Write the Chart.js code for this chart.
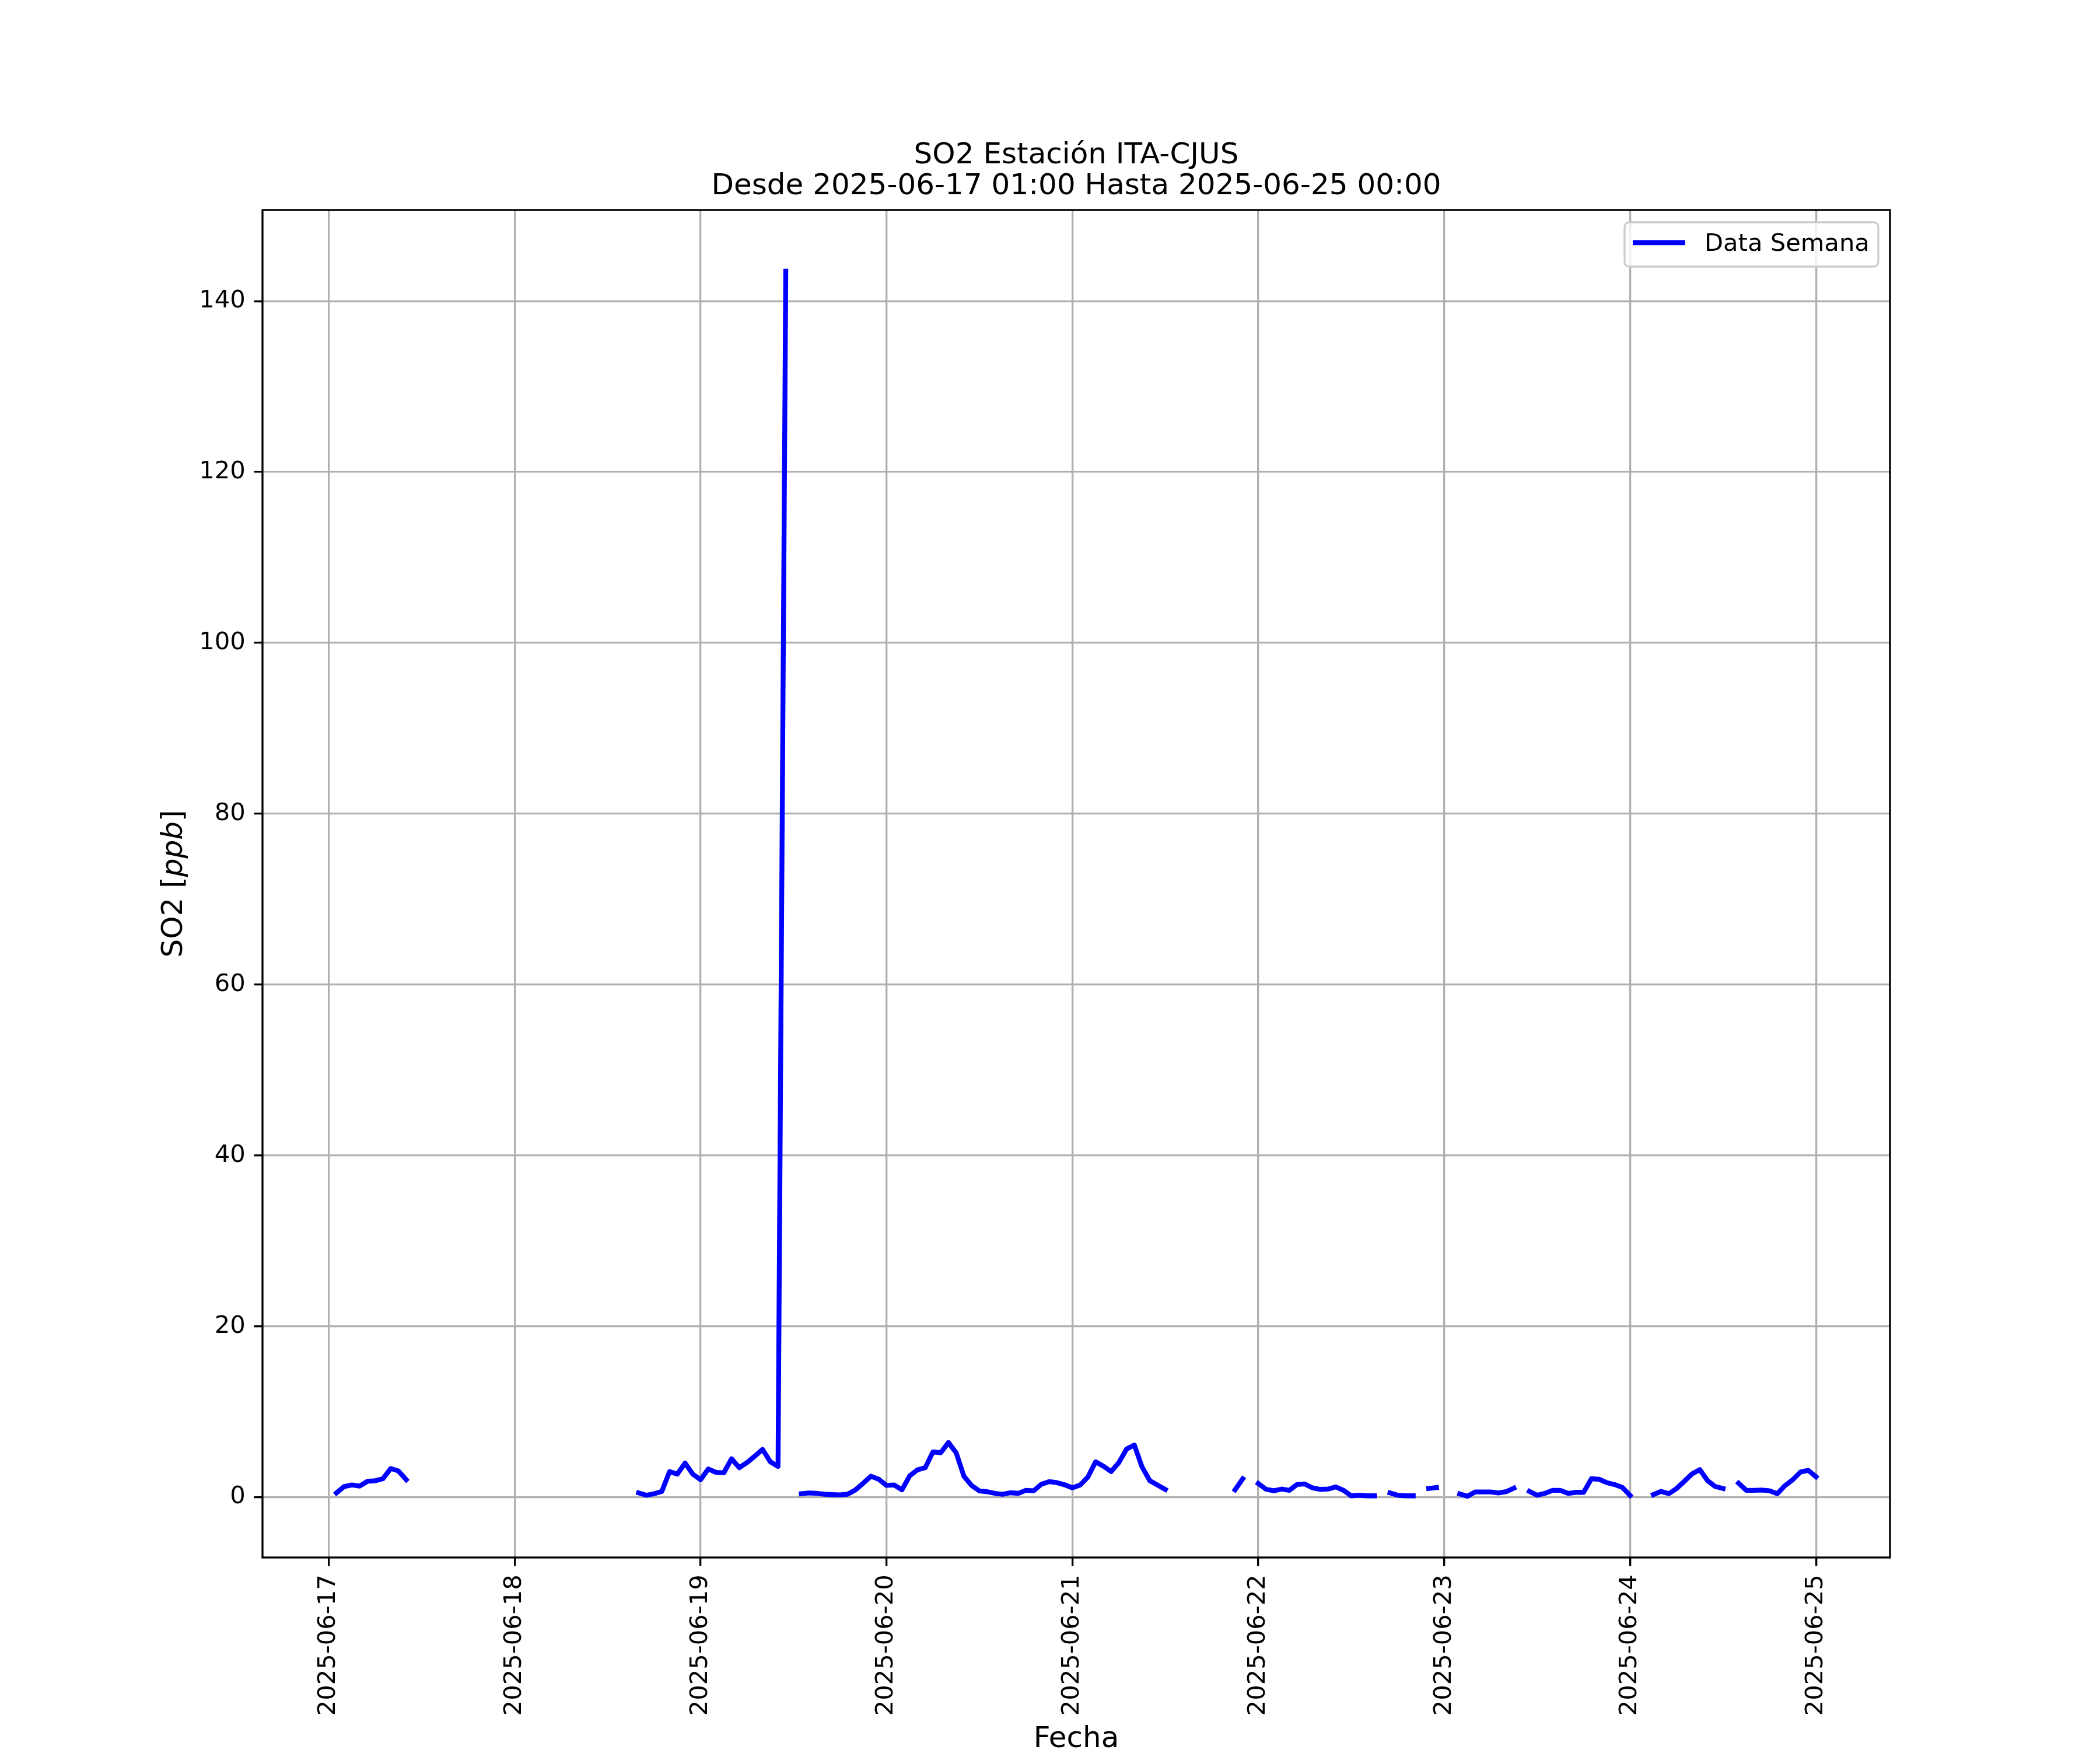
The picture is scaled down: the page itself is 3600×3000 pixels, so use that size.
<!DOCTYPE html>
<html>
<head>
<meta charset="utf-8">
<title>SO2 Estación ITA-CJUS</title>
<script src="https://cdn.jsdelivr.net/npm/chart.js@4.4.1/dist/chart.umd.min.js"></script>
<style>
  html, body { margin: 0; padding: 0; background: #fff; }
  canvas { display: block; }
</style>
</head>
<body>
<canvas id="so2Chart" width="3600" height="3000"></canvas>
<script>
// hourly SO2 (ppb), first value = 2025-06-17 01:00, last = 2025-06-25 00:00; null = no data
const so2 = [
  0.5, 1.25, 1.43, 1.3, 1.86, 1.93, 2.16, 3.36, 3.07, 2.05,
  null, null, null, null, null, null, null, null, null, null,
  null, null, null, null, null, null, null, null, null, null,
  null, null, null, null, null, null, null, null, null,
  0.5, 0.23, 0.4, 0.68, 3.0, 2.7, 4.0, 2.7, 2.05, 3.3,
  2.9, 2.85, 4.5, 3.45, 4.05, 4.8, 5.6, 4.15, 3.6, 143.5,
  null,
  0.4, 0.5, 0.45, 0.35, 0.3, 0.27, 0.35, 0.86, 1.64, 2.45,
  2.1, 1.38, 1.43, 0.86, 2.5, 3.2, 3.45, 5.3, 5.2, 6.4,
  5.2, 2.45, 1.36, 0.73, 0.64, 0.45, 0.34, 0.52, 0.45, 0.8,
  0.75, 1.52, 1.82, 1.7, 1.45, 1.1, 1.42, 2.35, 4.14, 3.64,
  3.0, 4.05, 5.64, 6.1, 3.52, 1.93, 1.41, 0.9,
  null, null, null, null, null, null, null, null,
  0.86, 2.16,
  null,
  1.6, 0.93, 0.75, 0.95, 0.8, 1.48, 1.55, 1.09, 0.91, 0.95,
  1.2, 0.8, 0.16, 0.23, 0.16, 0.16,
  null,
  0.5, 0.23, 0.16, 0.16,
  null,
  1.02, 1.12,
  null, null,
  0.39, 0.11, 0.61, 0.61, 0.61, 0.5, 0.64, 1.07,
  null,
  0.68, 0.23, 0.45, 0.8, 0.8, 0.45, 0.57, 0.57, 2.16, 2.1,
  1.7, 1.48, 1.14, 0.2,
  null, null,
  0.3, 0.68, 0.41, 1.02, 1.86, 2.73, 3.23, 1.93, 1.25, 1.02,
  null,
  1.64, 0.8, 0.8, 0.84, 0.75, 0.41, 1.36, 2.05, 2.95, 3.14,
  2.39
];

const dayLabels = [
  "2025-06-17", "2025-06-18", "2025-06-19", "2025-06-20", "2025-06-21",
  "2025-06-22", "2025-06-23", "2025-06-24", "2025-06-25"
];
const yTicks = [0, 20, 40, 60, 80, 100, 120, 140];

const titleLines = ["SO2 Estación ITA-CJUS", "Desde 2025-06-17 01:00 Hasta 2025-06-25 00:00"];
const seriesName = "Data Semana";

// x = hours since 2025-06-17 00:00
const points = so2.map((v, i) => ({ x: i + 1, y: v }));

const PT = 300 / 72;            // px per point
const FONT = "'DejaVu Sans', sans-serif";
const tickFont = { family: FONT, size: 10 * PT };

// matplotlib-like 5% margins
const xMin = 1 - 0.05 * 191, xMax = 192 + 0.05 * 191;
const yLo = 0.11, yHi = 143.5;
const yMin = yLo - 0.05 * (yHi - yLo), yMax = yHi + 0.05 * (yHi - yLo);

const decorations = {
  id: "decorations",
  afterDatasetsDraw(chart) {
    const { ctx, chartArea: a } = chart;
    ctx.save();
    // spines
    ctx.strokeStyle = "#000";
    ctx.lineWidth = 0.8 * PT;
    ctx.strokeRect(a.left, a.top, a.right - a.left, a.bottom - a.top);

    // legend
    const lx = 2785, ly = 381, lw = 435, lh = 76;
    ctx.beginPath();
    ctx.roundRect(lx, ly, lw, lh, 8);
    ctx.fillStyle = "rgba(255,255,255,0.8)";
    ctx.fill();
    ctx.strokeStyle = "#cccccc";
    ctx.lineWidth = 0.8 * PT;
    ctx.stroke();
    ctx.beginPath();
    ctx.moveTo(2799, 416);
    ctx.lineTo(2889, 416);
    ctx.strokeStyle = "#0000ff";
    ctx.lineWidth = 2 * PT;
    ctx.lineCap = "butt";
    ctx.stroke();
    ctx.fillStyle = "#000";
    ctx.font = `${10 * PT}px ${FONT}`;
    ctx.textAlign = "left";
    ctx.textBaseline = "alphabetic";
    ctx.fillText(seriesName, 2922, 430);

    // title
    const cx = (a.left + a.right) / 2;
    ctx.font = `${12 * PT}px ${FONT}`;
    ctx.textAlign = "center";
    ctx.fillText(titleLines[0], cx, 280);
    ctx.fillText(titleLines[1], cx, 333);

    // x label
    ctx.fillText("Fecha", cx, 2995);

    // y label: SO2 [ppb] with italic ppb
    const cy = (a.top + a.bottom) / 2;
    const parts = [
      ["SO2 [", `${12 * PT}px ${FONT}`],
      ["ppb", `italic ${12 * PT}px ${FONT}`],
      ["]", `${12 * PT}px ${FONT}`]
    ];
    let total = 0;
    parts.forEach(p => { ctx.font = p[1]; total += ctx.measureText(p[0]).width; });
    ctx.translate(312, cy);
    ctx.rotate(-Math.PI / 2);
    ctx.textAlign = "left";
    let px = -total / 2;
    parts.forEach(p => {
      ctx.font = p[1];
      ctx.fillText(p[0], px, 0);
      px += ctx.measureText(p[0]).width;
    });
    ctx.restore();
  }
};

new Chart(document.getElementById("so2Chart"), {
  type: "line",
  data: {
    datasets: [{
      label: seriesName,
      data: points,
      borderColor: "#0000ff",
      backgroundColor: "#0000ff",
      borderWidth: 2 * PT,
      pointRadius: 0,
      tension: 0,
      spanGaps: false,
      borderCapStyle: "square",
      borderJoinStyle: "round"
    }]
  },
  options: {
    responsive: false,
    animation: false,
    devicePixelRatio: 1,
    layout: { padding: { left: 0, top: 360, right: 360, bottom: 0 } },
    plugins: {
      legend: { display: false },
      title: { display: false },
      tooltip: { enabled: false }
    },
    scales: {
      x: {
        type: "linear",
        min: xMin,
        max: xMax,
        afterBuildTicks: (s) => { s.ticks = dayLabels.map((_, i) => ({ value: i * 24 })); },
        afterFit: (s) => { s.height = 330; },
        ticks: {
          autoSkip: false,
          minRotation: 90,
          maxRotation: 90,
          padding: 3.5 * PT,
          color: "#000",
          font: tickFont,
          callback: (v) => dayLabels[Math.round(v / 24)]
        },
        grid: {
          color: "#b0b0b0",
          lineWidth: 0.8 * PT,
          tickLength: 3.5 * PT,
          tickColor: "#000",
          tickWidth: 0.8 * PT
        },
        border: { display: false }
      },
      y: {
        type: "linear",
        min: yMin,
        max: yMax,
        afterBuildTicks: (s) => { s.ticks = yTicks.map(v => ({ value: v })); },
        afterFit: (s) => { s.width = 450; },
        ticks: {
          padding: 3.5 * PT,
          color: "#000",
          font: tickFont,
          callback: (v) => String(v)
        },
        grid: {
          color: "#b0b0b0",
          lineWidth: 0.8 * PT,
          tickLength: 3.5 * PT,
          tickColor: "#000",
          tickWidth: 0.8 * PT
        },
        border: { display: false }
      }
    }
  },
  plugins: [decorations]
});
</script>
</body>
</html>
